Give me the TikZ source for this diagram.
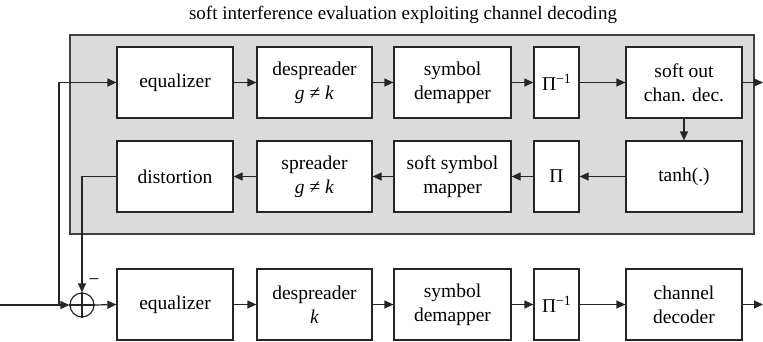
\documentclass[tikz,border=0pt]{standalone}
\usepackage{fontspec}
\setmainfont{Liberation Serif}
\usetikzlibrary{arrows.meta}
\newcommand{\piinv}{Π\raisebox{0.75ex}{\fontsize{14}{14}\selectfont −1}}
\begin{document}
\begin{tikzpicture}[x=1pt,y=1pt,
  blk/.style={draw=black!85, line width=1.2pt, fill=white, align=center, inner sep=0pt,
    font=\rmfamily\fontsize{19.5}{24}\selectfont},
  conn/.style={draw=black!85, line width=1.2pt, -{Triangle[length=9pt,width=8pt]}},
  plain/.style={draw=black!85, line width=1.2pt},
]
\path[use as bounding box] (0,0) rectangle (763,-341);
% title
\node[font=\rmfamily\fontsize{19}{22}\selectfont] (title) at (403,-15) {soft interference evaluation exploiting channel decoding};
% gray box
\node[draw=black!75, line width=1.2pt, fill=black!14, minimum width=684, minimum height=199, inner sep=0pt] (gray) at (412,-134.5) {};
% top row
\node[blk, minimum width=116, minimum height=71] (eqa) at (175,-82.5) {equalizer};
\node[blk, minimum width=115, minimum height=71] (dsa) at (314.5,-82.5) {despreader\\\textit{g} ≠ \textit{k}};
\node[blk, minimum width=117, minimum height=71] (sda) at (452.5,-82.5) {symbol\\demapper};
\node[blk, minimum width=45, minimum height=71] (pia) at (556.5,-82.5) {\piinv};
\node[blk, minimum width=116, minimum height=71] (scd) at (684,-82.5) {soft out\\chan. dec.};
% middle row
\node[blk, minimum width=116, minimum height=71] (dist) at (175,-176.5) {distortion};
\node[blk, minimum width=115, minimum height=71] (spr) at (314.5,-176.5) {spreader\\\textit{g} ≠ \textit{k}};
\node[blk, minimum width=117, minimum height=71] (ssm) at (452.5,-176.5) {soft symbol\\mapper};
\node[blk, minimum width=45, minimum height=71] (pib) at (556.5,-176.5) {Π};
\node[blk, minimum width=116, minimum height=71] (tanh) at (684,-176.5) {tanh(.)};
% lower row
\node[blk, minimum width=116, minimum height=71] (eqb) at (175,-304.5) {equalizer};
\node[blk, minimum width=115, minimum height=71] (dsb) at (314.5,-304.5) {despreader\\\textit{k}};
\node[blk, minimum width=117, minimum height=71] (sdb) at (452.5,-304.5) {symbol\\demapper};
\node[blk, minimum width=45, minimum height=71] (pic) at (556.5,-304.5) {\piinv};
\node[blk, minimum width=116, minimum height=71] (cd) at (684,-304.5) {channel\\decoder};
% summing junction
\node[draw=black!85, line width=1.2pt, circle, minimum size=24, inner sep=0pt] (sum) at (82,-305) {};
\draw[plain] (sum.north) -- (sum.south) (sum.west) -- (sum.east);
\node[font=\rmfamily\fontsize{19}{19}\selectfont, inner sep=0pt] (minus) at (94,-282) {−};
% coordinates
\coordinate (in) at (0,-305);
\coordinate (br) at (59,-305);
\coordinate (outa) at (763,-82.5);
\coordinate (outb) at (763,-304.5);
% connections
\draw[conn] (eqa) -- (dsa);
\draw[conn] (dsa) -- (sda);
\draw[conn] (sda) -- (pia);
\draw[conn] (pia) -- (scd);
\draw[conn] (scd) -- (outa);
\draw[conn] (scd) -- (tanh);
\draw[conn] (tanh) -- (pib);
\draw[conn] (pib) -- (ssm);
\draw[conn] (ssm) -- (spr);
\draw[conn] (spr) -- (dist);
\draw[conn] (dist.west) -| (sum.north);
\draw[conn] (in) -- (sum.west);
\draw[conn] (br) |- (eqa.west);
\draw[conn] (sum.east) -- (eqb.west);
\draw[conn] (eqb) -- (dsb);
\draw[conn] (dsb) -- (sdb);
\draw[conn] (sdb) -- (pic);
\draw[conn] (pic) -- (cd);
\draw[conn] (cd) -- (outb);
\end{tikzpicture}
\end{document}
